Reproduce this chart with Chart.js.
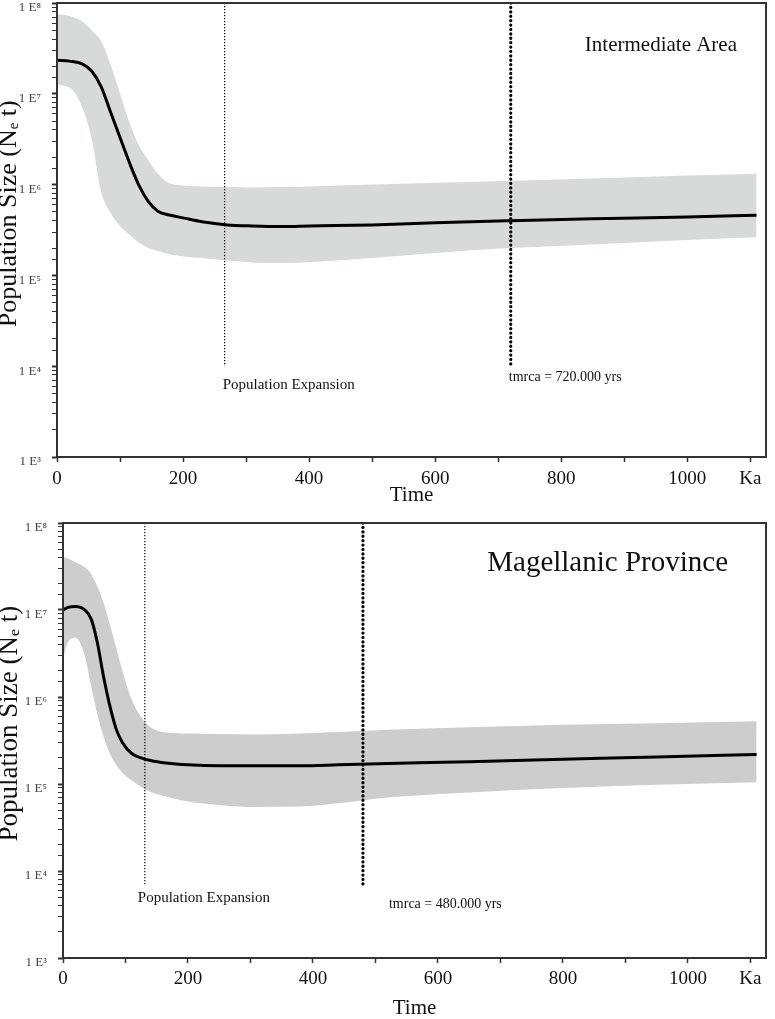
<!DOCTYPE html>
<html>
<head>
<meta charset="utf-8">
<script src="https://cdn.jsdelivr.net/npm/chart.js@4.4.1/dist/chart.umd.min.js"></script>
<style>
  body { margin: 0; background: #fff; }
  canvas { display: block; }
</style>
</head>
<body>
<canvas id="chartTop" width="775" height="509"></canvas>
<canvas id="chartBottom" width="775" height="510"></canvas>
<script>
// Intermediate Area (time in Ka, population size Ne t)
const timeTop   = [0, 20, 40, 55, 70, 85, 100, 115, 130, 145, 160, 180, 200, 230, 270, 310, 360, 400, 500, 600, 720, 850, 1000, 1110];
const medianTop = [2.34e7, 2.29e7, 2.14e7, 1.78e7, 1.2e7, 6.3e6, 3.3e6, 1.74e6, 9.8e5, 6.5e5, 5.1e5, 4.6e5, 4.3e5, 3.9e5, 3.6e5, 3.5e5, 3.45e5, 3.5e5, 3.6e5, 3.8e5, 4.0e5, 4.2e5, 4.4e5, 4.6e5];
const upperTop  = [7.5e7, 7.2e7, 6.3e7, 5.0e7, 3.8e7, 2.1e7, 1.0e7, 4.8e6, 2.7e6, 1.86e6, 1.32e6, 1.02e6, 9.8e5, 9.5e5, 9.4e5, 9.3e5, 9.4e5, 9.5e5, 1.0e6, 1.05e6, 1.1e6, 1.17e6, 1.26e6, 1.32e6];
const lowerTop  = [1.26e7, 1.17e7, 7.1e6, 3.2e6, 8.3e5, 4.9e5, 3.5e5, 2.8e5, 2.3e5, 2.0e5, 1.86e5, 1.7e5, 1.62e5, 1.55e5, 1.46e5, 1.39e5, 1.37e5, 1.4e5, 1.55e5, 1.76e5, 2.0e5, 2.19e5, 2.45e5, 2.63e5];
const markersTop = [266, 720];          // population expansion, tmrca
const markerSpanTop = [1e8, 1e4];

// Magellanic Province
const timeBottom   = [0, 8, 20, 35, 45, 55, 65, 75, 85, 95, 110, 125, 140, 165, 200, 250, 300, 380, 440, 520, 650, 800, 950, 1110];
const medianBottom = [1.0e7, 1.07e7, 1.1e7, 1.0e7, 7.9e6, 4.2e6, 1.7e6, 7.9e5, 4.3e5, 3.0e5, 2.24e5, 2.0e5, 1.86e5, 1.74e5, 1.66e5, 1.62e5, 1.62e5, 1.62e5, 1.66e5, 1.72e5, 1.8e5, 1.92e5, 2.05e5, 2.19e5];
const upperBottom  = [4.1e7, 3.9e7, 3.55e7, 3.1e7, 2.6e7, 1.86e7, 1.2e7, 6.8e6, 3.7e6, 2.0e6, 9.3e5, 5.9e5, 4.5e5, 3.9e5, 3.8e5, 3.76e5, 3.7e5, 3.8e5, 3.95e5, 4.2e5, 4.5e5, 4.8e5, 5.0e5, 5.25e5];
const lowerBottom  = [2.8e6, 4.3e6, 4.8e6, 2.95e6, 1.35e6, 6.3e5, 3.5e5, 2.24e5, 1.66e5, 1.35e5, 1.1e5, 9.3e4, 8.1e4, 7.2e4, 6.3e4, 5.75e4, 5.45e4, 5.5e4, 6.0e4, 7.0e4, 8.0e4, 9.0e4, 9.8e4, 1.05e5];
const markersBottom = [131, 480];
const markerSpanBottom = [1e8, 7e3];

const xTickLabels = { 0: '0', 200: '200', 400: '400', 600: '600', 800: '800', 1000: '1000', 1100: 'Ka' };
const supers = { 3: '³', 4: '⁴', 5: '⁵', 6: '⁶', 7: '⁷', 8: '⁸' };

const serif = '"Liberation Serif", "Times New Roman", serif';

function pts(xs, ys) {
  return xs.map((x, i) => ({ x: x, y: ys[i] }));
}

// box round the plot area
const framePlugin = {
  id: 'frame',
  afterDraw(chart) {
    const a = chart.chartArea, ctx = chart.ctx;
    ctx.save();
    ctx.strokeStyle = '#333';
    ctx.lineWidth = 2;
    ctx.strokeRect(a.left, a.top, a.right - a.left, a.bottom - a.top);
    ctx.restore();
  }
};

// text notes tied to the scales
const notesPlugin = {
  id: 'notes',
  afterDraw(chart, args, opts) {
    const ctx = chart.ctx, xs = chart.scales.x, ys = chart.scales.y, a = chart.chartArea;
    ctx.save();
    ctx.fillStyle = '#111';
    ctx.textBaseline = 'middle';
    (opts.items || []).forEach(n => {
      ctx.font = n.size + 'px ' + serif;
      let x, y;
      if (n.corner) {
        x = a.right + n.dx; y = a.top + n.dy;
        ctx.textAlign = 'right';
      } else {
        x = xs.getPixelForValue(n.x) + n.dx;
        y = ys.getPixelForValue(n.y) + n.dy;
        ctx.textAlign = 'left';
      }
      ctx.fillText(n.text, x, y);
    });
    ctx.restore();
  }
};

function makeChart(id, d) {
  const markerSets = d.markers.map((t, i) => ({
    data: pts([t, t], d.span),
    borderColor: '#000',
    borderWidth: i === 0 ? 1.2 : 3.2,
    borderDash: i === 0 ? [1.2, 1.8] : [0.1, 4.3],
    borderCapStyle: i === 0 ? 'butt' : 'round',
    pointRadius: 0,
    fill: false
  }));

  return new Chart(document.getElementById(id), {
    type: 'line',
    data: {
      datasets: [
        ...markerSets,
        {
          data: pts(d.time, d.median),
          borderColor: '#000',
          borderWidth: 3,
          pointRadius: 0,
          cubicInterpolationMode: 'monotone',
          fill: false
        },
        {
          data: pts(d.time, d.upper),
          borderWidth: 0,
          borderColor: 'rgba(0,0,0,0)',
          backgroundColor: d.band,
          pointRadius: 0,
          cubicInterpolationMode: 'monotone',
          fill: '+1'
        },
        {
          data: pts(d.time, d.lower),
          borderWidth: 0,
          borderColor: 'rgba(0,0,0,0)',
          pointRadius: 0,
          cubicInterpolationMode: 'monotone',
          fill: false
        }
      ]
    },
    options: {
      responsive: false,
      animation: false,
      events: [],
      layout: { padding: { top: d.top, right: 9, left: 0, bottom: 0 } },
      plugins: {
        legend: { display: false },
        tooltip: { enabled: false },
        notes: { items: d.notes }
      },
      scales: {
        x: {
          type: 'linear',
          min: 0,
          max: 1125,
          border: { display: false },
          grid: { drawOnChartArea: false, tickLength: 5, tickColor: '#333', tickWidth: 1.5 },
          ticks: {
            stepSize: 100,
            includeBounds: false,
            autoSkip: false,
            maxRotation: 0,
            padding: d.xPad,
            color: '#111',
            font: { family: serif, size: 19 },
            callback: v => xTickLabels[v] !== undefined ? xTickLabels[v] : ''
          },
          title: {
            display: true,
            text: 'Time',
            color: '#111',
            font: { family: serif, size: 21, lineHeight: 1 },
            padding: { top: 0, bottom: d.titlePad }
          },
          afterFit: s => { s.height = d.xHeight; s.paddingLeft = 0; s.paddingRight = 0; }
        },
        y: {
          type: 'logarithmic',
          min: 1e3,
          max: 1e8,
          border: { display: false },
          grid: {
            drawOnChartArea: false,
            tickLength: 5,
            tickColor: '#333',
            tickWidth: ctx => {
              const e = Math.log10(ctx.tick.value);
              return Math.abs(e - Math.round(e)) < 1e-6 ? 2 : 1;
            }
          },
          ticks: {
            autoSkip: false,
            padding: 11,
            labelOffset: 5,
            color: '#444',
            font: { family: serif, size: 13 },
            callback: v => {
              const e = Math.log10(v);
              return Math.abs(e - Math.round(e)) < 1e-6 ? '1 E' + supers[Math.round(e)] : '';
            }
          },
          title: {
            display: true,
            // leading spaces lift the label a little above the middle, as in the original
            text: '     Population Size (Nₑ t)',
            color: '#111',
            font: { family: serif, size: d.yTitleSize, lineHeight: 1 },
            padding: { top: -4, bottom: 0 }
          },
          afterFit: s => { s.width = d.yWidth; s.paddingTop = 0; s.paddingBottom = 0; }
        }
      }
    },
    plugins: [framePlugin, notesPlugin]
  });
}

makeChart('chartTop', {
  time: timeTop, median: medianTop, upper: upperTop, lower: lowerTop,
  markers: markersTop, span: markerSpanTop,
  band: '#d8dad9',
  top: 3, yWidth: 57, xHeight: 52, xPad: 6, titlePad: 3, yTitleSize: 26,
  notes: [
    { corner: true, text: 'Intermediate Area', size: 21, dx: -29, dy: 42 },
    { x: markersTop[0], y: markerSpanTop[1], dx: -2, dy: 19, text: 'Population Expansion', size: 15 },
    { x: markersTop[1], y: markerSpanTop[1], dx: -2, dy: 11, text: 'tmrca = 720.000 yrs', size: 14 }
  ]
});

makeChart('chartBottom', {
  time: timeBottom, median: medianBottom, upper: upperBottom, lower: lowerBottom,
  markers: markersBottom, span: markerSpanBottom,
  band: '#cdcdcd',
  top: 14, yWidth: 63, xHeight: 61, xPad: 5, titlePad: 0, yTitleSize: 27,
  notes: [
    { corner: true, text: 'Magellanic Province', size: 29, dx: -38, dy: 40 },
    { x: markersBottom[0], y: markerSpanBottom[1], dx: -7, dy: 14, text: 'Population Expansion', size: 15 },
    { x: markersBottom[1], y: markerSpanBottom[1], dx: 26, dy: 20, text: 'tmrca = 480.000 yrs', size: 14 }
  ]
});
</script>
</body>
</html>
